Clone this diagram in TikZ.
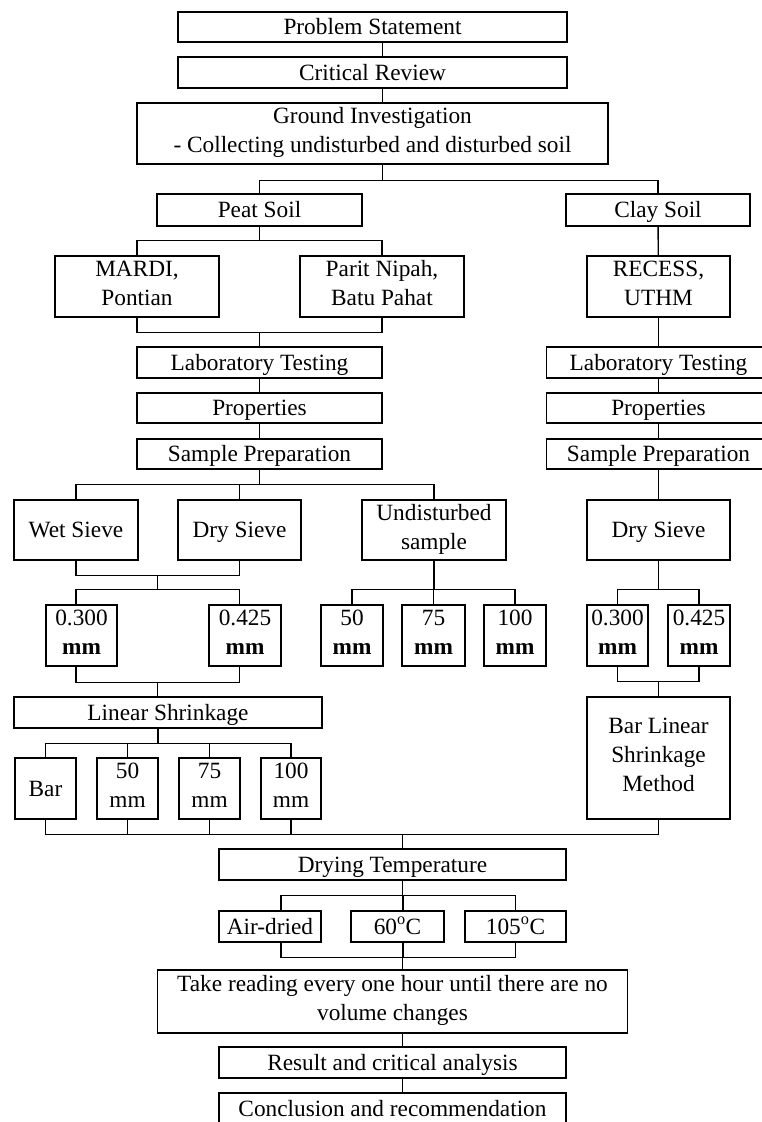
\documentclass[tikz,border=0pt]{standalone}
\usepackage{fontspec}
\setmainfont{Liberation Serif}
\usetikzlibrary{calc}

\newcommand\boxstrut{\rule[-7pt]{0pt}{29pt}}

\begin{document}
\begin{tikzpicture}[x=1pt,y=-1pt,line width=1.4pt,
            every node/.style={rectangle,draw,inner sep=0pt,align=center,
                font=\fontsize{23.3}{29}\selectfont,
                execute at begin node=\boxstrut},
            wh/.style 2 args={minimum width=#1,minimum height=#2}
        ]
        \useasboundingbox (0,0) rectangle (761,1122);

        % main column, top
        \node[wh={389}{30}] (ps) at (372.5,27)    {Problem Statement};
        \node[wh={389}{31}] (cr) at (372.5,72.5)  {Critical Review};
        \node[wh={471}{61}] (gi) at (372.5,133.5) {Ground Investigation\\- Collecting undisturbed and disturbed soil\boxstrut};

        % peat soil and clay soil
        \node[wh={205}{32}] (peat) at (259.5,210)    {Peat Soil};
        \node[wh={184}{32}] (clay) at (658,210)      {Clay Soil};
        \node[wh={164}{61}] (mardi) at (137,286.5)   {MARDI,\\Pontian\boxstrut};
        \node[wh={164}{61}] (parit) at (382,286.5)   {Parit Nipah,\\Batu Pahat\boxstrut};
        \node[wh={143}{61}] (recess) at (658.5,286.5) {RECESS,\\UTHM\boxstrut};

        \node[wh={245}{31}] (labL) at (259.5,362.5) {Laboratory Testing};
        \node[wh={245}{30}] (propL) at (259.5,408)  {Properties};
        \node[wh={245}{30}] (spL) at (259.5,454)    {Sample Preparation};
        \node[wh={224}{31}] (labR) at (658.5,362.5) {Laboratory Testing};
        \node[wh={224}{30}] (propR) at (658.5,408)  {Properties};
        \node[wh={224}{30}] (spR) at (658.5,454)    {Sample Preparation};

        % sieves
        \node[wh={124}{60}] (wet) at (76,530)     {Wet Sieve};
        \node[wh={123}{60}] (dryL) at (239.5,530) {Dry Sieve};
        \node[wh={144}{60}] (und) at (434,530)    {Undisturbed\\sample\boxstrut};
        \node[wh={143}{60}] (dryR) at (658.5,530) {Dry Sieve};

        \node[wh={71}{61}] (a300) at (81.5,635.5)  {0.300\\\textbf{mm}\boxstrut};
        \node[wh={72}{61}] (a425) at (245,635.5)   {0.425\\\textbf{mm}\boxstrut};
        \node[wh={62}{61}] (u50) at (352,635.5)    {50\\\textbf{mm}\boxstrut};
        \node[wh={63}{61}] (u75) at (433.5,635.5)  {75\\\textbf{mm}\boxstrut};
        \node[wh={62}{61}] (u100) at (515,635.5)   {100\\\textbf{mm}\boxstrut};
        \node[wh={61}{61}] (b300) at (617.5,635.5) {0.300\\\textbf{mm}\boxstrut};
        \node[wh={62}{61}] (b425) at (699,635.5)   {0.425\\\textbf{mm}\boxstrut};

        % shrinkage
        \node[wh={308}{31}] (ls) at (168,712.5)     {Linear Shrinkage};
        \node[wh={143}{122}] (blsm) at (658.5,758)  {Bar Linear\\Shrinkage\\Method\boxstrut};
        \node[wh={61}{61}] (bar) at (45.5,788.5)    {Bar};
        \node[wh={61}{61}] (s50) at (127.5,788.5)   {50\\mm\boxstrut};
        \node[wh={61}{61}] (s75) at (209.5,788.5)   {75\\mm\boxstrut};
        \node[wh={60}{61}] (s100) at (291,788.5)    {100\\mm\boxstrut};

        % main column, bottom
        \node[wh={347}{31}] (dt) at (392.5,864.5)   {Drying Temperature};
        \node[wh={102}{31}] (air) at (270,926.5)    {Air-dried};
        \node[wh={93}{31}] (t60) at (397.5,926.5)   {60\textsuperscript{o}C};
        \node[wh={101}{31}] (t105) at (515.5,926.5) {105\textsuperscript{o}C};
        \node[wh={470}{63}] (tr) at (392.5,1001.5)  {Take reading every one hour until there are no\\volume changes\boxstrut};
        \node[wh={347}{31}] (res) at (392.5,1062.5) {Result and critical analysis};
        \node[wh={347}{31}] (conc) at (392.5,1108.5) {Conclusion and recommendation};

        % top connectors
        \draw ([xshift=10]ps.south) -- ([xshift=10]cr.north);
        \draw ([xshift=10]cr.south) -- ([xshift=10]gi.north);
        \draw ([xshift=10]gi.south) -- ++(0,16) coordinate (jgi);
        \draw (peat.north) |- (jgi) -| (clay.north);

        \draw (peat.south) -- ++(0,14) coordinate (jpeat);
        \draw (mardi.north) |- (jpeat) -| (parit.north);
        \draw (mardi.south) -- ++(0,15) coordinate (jmp) -| (parit.south);
        \draw (labL.north) -- (labL.north |- jmp);
        \draw (clay) -- (recess);
        \draw (recess) -- (labR);

        \draw (labL) -- (propL);
        \draw (propL) -- (spL);
        \draw (labR) -- (propR);
        \draw (propR) -- (spR);

        % sieves and sizes
        \draw (spL.south) -- ++(0,15) coordinate (jsp);
        \draw (wet.north) |- (jsp) -| (und.north);
        \draw (dryL.north) -- (dryL.north |- jsp);
        \draw (spR) -- (dryR);

        \draw (wet.south) -- ++(0,15) coordinate (jwd) -| (dryL.south);
        \draw ($(wet.south)!0.5!(dryL.south)+(0,15)$) -- ++(0,14) coordinate (jsv);
        \draw ([xshift=-5.5]a300.north) |- (jsv) -| ([xshift=-5.5]a425.north);
        \draw ([xshift=-5.5]a300.south) -- ++(0,16) coordinate (jaa) -| ([xshift=-5.5]a425.south);
        \draw (jsv |- jaa) -- (jsv |- ls.north);

        \draw (und.south) -- ++(0,29) coordinate (jund);
        \draw (u50.north) |- (jund) -| (u100.north);
        \draw (u75.north) -- (u75.north |- jund);

        \draw (dryR.south) -- ++(0,29) coordinate (jdr);
        \draw (b300.north) |- (jdr) -| (b425.north);
        \draw (b300.south) -- ++(0,15) coordinate (jbb) -| (b425.south);
        \draw (jbb -| blsm.north) -- (blsm.north);

        % shrinkage to drying
        \draw ([xshift=-10]ls.south) -- ++(0,15) coordinate (jls);
        \draw (bar.north) |- (jls) -| (s100.north);
        \draw (s50.north) -- (s50.north |- jls);
        \draw (s75.north) -- (s75.north |- jls);

        \draw (bar.south) -- ++(0,15) coordinate (jbot) -| (blsm.south);
        \foreach \n in {s50,s75,s100}
            \draw (\n.south) -- (\n.south |- jbot);
        \coordinate (cdt) at ([xshift=10]dt.north);
        \draw (cdt |- jbot) -- (cdt);

        \draw ([xshift=10]dt.south) -- ++(0,15) coordinate (jdt);
        \draw ([xshift=11]air.north) |- (jdt) -| (t105.north);
        \coordinate (ct60) at ([xshift=5.5]t60.north);
        \draw (ct60) -- (ct60 |- jdt);
        \draw ([xshift=11]air.south) -- ++(0,15) coordinate (jtmp) -| (t105.south);
        \draw ([xshift=5.5]t60.south) -- (ct60 |- jtmp);
        \draw (jtmp -| cdt) -- ([xshift=10]tr.north);
        \draw ([xshift=10]tr.south) -- ([xshift=10]res.north);
        \draw ([xshift=10]res.south) -- ([xshift=10]conc.north);
    \end{tikzpicture}
\end{document}
